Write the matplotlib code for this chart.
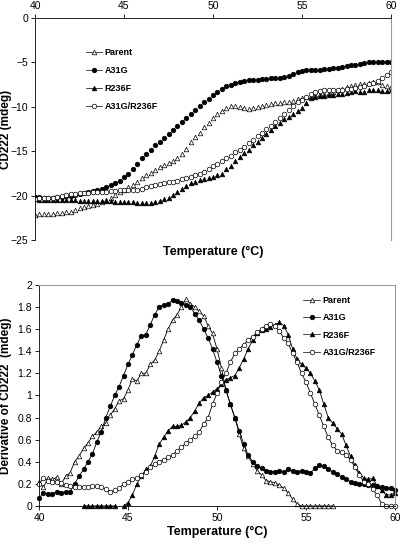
import numpy as np
import matplotlib
matplotlib.use('Agg')
import matplotlib.pyplot as plt
from matplotlib.lines import Line2D

plt.rcParams['font.family'] = ['Liberation Sans', 'DejaVu Sans']

# temperature grid (deg C), one reading every 0.25 deg
temp = np.linspace(40, 60, 81)
nan = np.nan

# ---- top panel: CD222 (mdeg) ----
cd_parent = [-22.2, -22.1, -22.1, -22.0, -22.0, -21.9, -21.9, -21.8, -21.8, -21.6,
             -21.4, -21.3, -21.2, -21.0, -20.9, -20.7, -20.5, -20.2, -19.9, -19.6,
             -19.3, -19.0, -18.8, -18.4, -18.0, -17.7, -17.4, -17.1, -16.8, -16.5,
             -16.3, -16.1, -15.8, -15.3, -14.7, -14.0, -13.4, -12.9, -12.3, -11.8,
             -11.2, -10.8, -10.5, -10.1, -9.9, -9.9, -10.0, -10.1, -10.2, -10.1,
             -10.0, -9.9, -9.8, -9.7, -9.6, -9.6, -9.5, -9.4, -9.3, -9.1,
             -9.0, -8.9, -8.8, -8.7, -8.6, -8.5, -8.4, -8.3, -8.1, -8.0,
             -7.8, -7.6, -7.5, -7.4, -7.4, -7.3, -7.2, -7.2, -7.5, -7.7, -7.8]
cd_a31g = [-20.1, -20.1, -20.2, -20.2, -20.2, -20.1, -20.1, -20.0, -20.0, -19.9,
           -19.8, -19.7, -19.6, -19.5, -19.4, -19.2, -19.0, -18.8, -18.6, -18.3,
           -17.9, -17.5, -17.0, -16.4, -15.8, -15.3, -14.8, -14.3, -13.9, -13.5,
           -13.1, -12.6, -12.2, -11.7, -11.3, -10.8, -10.4, -9.9, -9.5, -9.1,
           -8.7, -8.3, -8.0, -7.7, -7.5, -7.3, -7.2, -7.1, -7.0, -7.0,
           -7.0, -6.9, -6.9, -6.8, -6.7, -6.7, -6.6, -6.5, -6.3, -6.1,
           -6.0, -5.9, -5.9, -5.8, -5.8, -5.7, -5.7, -5.6, -5.6, -5.5,
           -5.4, -5.3, -5.3, -5.2, -5.1, -5.0, -5.0, -4.9, -5.0, -5.0, -5.0]
cd_r236f = [-20.4, -20.5, -20.5, -20.5, -20.5, -20.5, -20.5, -20.5, -20.5, -20.5,
            -20.6, -20.6, -20.6, -20.6, -20.6, -20.6, -20.6, -20.6, -20.7, -20.7,
            -20.7, -20.7, -20.7, -20.8, -20.8, -20.8, -20.8, -20.7, -20.6, -20.4,
            -20.2, -19.9, -19.6, -19.2, -18.9, -18.6, -18.4, -18.2, -18.1, -18.0,
            -17.9, -17.7, -17.5, -17.0, -16.6, -16.1, -15.6, -15.2, -14.8, -14.3,
            -13.9, -13.5, -13.1, -12.6, -12.2, -11.8, -11.4, -11.1, -10.8, -10.5,
            -10.1, -9.6, -9.0, -8.9, -8.8, -8.8, -8.7, -8.7, -8.6, -8.5,
            -8.4, -8.3, -8.2, -8.3, -8.3, -8.1, -8.1, -8.1, -8.2, -8.2, -8.1]
cd_double = [-20.4, -20.3, -20.3, -20.2, -20.2, -20.1, -20.0, -19.9, -19.8, -19.8,
             -19.7, -19.7, -19.7, -19.6, -19.6, -19.6, -19.6, -19.5, -19.5, -19.4,
             -19.3, -19.3, -19.4, -19.4, -19.2, -19.0, -18.9, -18.8, -18.7, -18.6,
             -18.5, -18.4, -18.3, -18.1, -18.0, -17.9, -17.7, -17.5, -17.3, -17.0,
             -16.7, -16.4, -16.1, -15.8, -15.5, -15.1, -14.8, -14.5, -14.1, -13.7,
             -13.3, -12.9, -12.5, -12.1, -11.7, -11.2, -10.8, -10.3, -9.9, -9.5,
             -9.2, -8.9, -8.6, -8.3, -8.2, -8.1, -8.1, -8.1, -8.1, -8.1,
             -8.0, -8.0, -7.9, -7.8, -7.6, -7.4, -7.3, -7.1, -6.8, -6.4, -6.1]

# ---- bottom panel: derivative of CD222 ----
dv_parent = [0.22, 0.17, 0.25, 0.24, 0.26, 0.20, 0.27, 0.30, 0.40, 0.45,
             0.52, 0.57, 0.63, 0.67, 0.72, 0.75, 0.82, 0.88, 0.95, 0.97,
             1.05, 1.15, 1.13, 1.20, 1.20, 1.28, 1.32, 1.40, 1.50, 1.60,
             1.68, 1.73, 1.80, 1.87, 1.83, 1.80, 1.76, 1.72, 1.63, 1.56,
             1.42, 1.25, 1.05, 0.92, 0.80, 0.65, 0.52, 0.45, 0.38, 0.32,
             0.28, 0.23, 0.22, 0.21, 0.19, 0.16, 0.12, 0.06, 0.02, 0.0,
             0.0, 0.0, 0.0, 0.0, 0.0, 0.0, 0.0, nan, nan, nan,
             nan, nan, nan, nan, nan, nan, nan, nan, nan, nan, nan]
dv_a31g = [0.07, 0.12, 0.11, 0.11, 0.13, 0.12, 0.13, 0.13, 0.20, 0.27,
           0.33, 0.40, 0.47, 0.58, 0.67, 0.80, 0.90, 1.00, 1.08, 1.18,
           1.28, 1.37, 1.46, 1.54, 1.55, 1.64, 1.73, 1.80, 1.82, 1.83,
           1.86, 1.85, 1.84, 1.82, 1.80, 1.74, 1.68, 1.60, 1.52, 1.42,
           1.30, 1.18, 1.05, 0.92, 0.80, 0.68, 0.56, 0.46, 0.40, 0.36,
           0.34, 0.32, 0.31, 0.31, 0.32, 0.31, 0.33, 0.32, 0.31, 0.32,
           0.31, 0.30, 0.34, 0.37, 0.36, 0.33, 0.31, 0.29, 0.26, 0.24,
           0.22, 0.21, 0.20, 0.20, 0.19, 0.19, 0.18, 0.17, 0.16, 0.16, 0.14]
dv_r236f = [nan, nan, nan, nan, nan, nan, nan, nan, nan, nan,
            0.0, 0.0, 0.0, 0.0, 0.0, 0.0, 0.0, 0.0, nan, 0.0,
            0.03, 0.10, 0.20, 0.27, 0.33, 0.36, 0.45, 0.56, 0.62, 0.68,
            0.72, 0.72, 0.73, 0.76, 0.80, 0.86, 0.93, 0.98, 1.00, 1.03,
            1.06, 1.10, 1.14, 1.16, 1.18, 1.25, 1.33, 1.42, 1.50, 1.56,
            1.59, 1.60, 1.62, 1.64, 1.66, 1.63, 1.55, 1.42, 1.33, 1.28,
            1.25, 1.20, 1.13, 1.05, 0.92, 0.80, 0.75, 0.70, 0.65, 0.55,
            0.45, 0.37, 0.30, 0.25, 0.24, 0.25, 0.18, 0.14, 0.10, 0.10, 0.12]
dv_double = [0.20, 0.25, 0.23, 0.22, 0.22, 0.21, 0.19, 0.18, 0.17, 0.17,
             0.17, 0.17, 0.18, 0.18, 0.17, 0.15, 0.13, 0.14, 0.16, 0.20,
             0.22, 0.24, 0.25, 0.28, 0.31, 0.35, 0.38, 0.40, 0.42, 0.44,
             0.46, 0.50, 0.53, 0.57, 0.60, 0.63, 0.67, 0.74, 0.80, 0.92,
             1.02, 1.12, 1.20, 1.30, 1.38, 1.42, 1.46, 1.50, 1.53, 1.57,
             1.60, 1.63, 1.65, 1.63, 1.58, 1.52, 1.47, 1.38, 1.30, 1.20,
             1.12, 1.02, 0.92, 0.82, 0.72, 0.62, 0.55, 0.50, 0.49, 0.46,
             0.42, 0.35, 0.28, 0.22, 0.20, 0.15, 0.10, 0.02, 0.0, 0.0, 0.0]

labels = ['Parent', 'A31G', 'R236F', 'A31G/R236F']
markers = ['^', 'o', '^', 'o']
faces = ['white', 'black', 'black', 'white']

fig = plt.figure(figsize=(4, 5.46), dpi=100)
ax1 = fig.add_axes([0.0875, 0.560, 0.89, 0.407])
ax2 = fig.add_axes([0.0975, 0.0733, 0.89, 0.405])

# top: markers only
for ys, m, fc in zip([cd_parent, cd_a31g, cd_r236f, cd_double], markers, faces):
    ax1.plot(temp, ys, linestyle='none', marker=m, markersize=3.3,
             markerfacecolor=fc, markeredgecolor='black', markeredgewidth=0.5)

ax1.set_xlim(40, 60)
ax1.set_ylim(-25, 0)
ax1.set_xticks([40, 45, 50, 55, 60])
ax1.set_yticks([0, -5, -10, -15, -20, -25])
ax1.xaxis.tick_top()
ax1.tick_params(axis='both', labelsize=7.5, length=3, width=0.6, direction='out', pad=2)
ax1.set_xlabel('Temperature (°C)', fontsize=9, fontweight='bold')
ax1.xaxis.set_label_position('bottom')
ax1.set_ylabel('CD222 (mdeg)', fontsize=8.5, fontweight='bold')
ax1.yaxis.set_label_coords(-0.066, 0.5)
ax1.spines['bottom'].set_visible(False)
ax1.spines['right'].set_color('#999999')
for s in ['left', 'top']:
    ax1.spines[s].set_linewidth(0.6)

handles = [Line2D([], [], color='black', linewidth=0.5, marker=m, markersize=3.3,
                  markerfacecolor=fc, markeredgecolor='black', markeredgewidth=0.5)
           for m, fc in zip(markers, faces)]
ax1.legend(handles, labels, loc='upper left', bbox_to_anchor=(0.12, 0.9),
           frameon=False, handlelength=1.8, handletextpad=0.3,
           labelspacing=1.0, prop={'size': 6.5, 'weight': 'bold'})

# bottom: lines with markers
for ys, m, fc in zip([dv_parent, dv_a31g, dv_r236f, dv_double], markers, faces):
    ax2.plot(temp, ys, color='black', linewidth=0.6, marker=m, markersize=3.3,
             markerfacecolor=fc, markeredgecolor='black', markeredgewidth=0.5,
             clip_on=False)

ax2.set_xlim(40, 60)
ax2.set_ylim(0, 2)
ax2.set_xticks([40, 45, 50, 55, 60])
ax2.set_yticks(np.arange(0, 2.01, 0.2))
ax2.set_yticklabels(['0', '0.2', '0.4', '0.6', '0.8', '1', '1.2', '1.4', '1.6', '1.8', '2'])
ax2.tick_params(axis='both', labelsize=7.5, length=3, width=0.6, direction='out', pad=2)
ax2.set_xlabel('Temperature (°C)', fontsize=9, fontweight='bold', labelpad=2)
ax2.set_ylabel('Derivative of CD222  (mdeg)', fontsize=8.5, fontweight='bold')
ax2.yaxis.set_label_coords(-0.076, 0.5)
ax2.spines['right'].set_color('#999999')
ax2.spines['top'].set_color('#999999')
for s in ['left', 'bottom']:
    ax2.spines[s].set_linewidth(0.6)

ax2.legend(handles, labels, loc='upper left', bbox_to_anchor=(0.72, 0.985),
           frameon=False, handlelength=1.8, handletextpad=0.3,
           labelspacing=0.9, prop={'size': 6.5, 'weight': 'bold'})

fig.savefig('out.png', dpi=100)
